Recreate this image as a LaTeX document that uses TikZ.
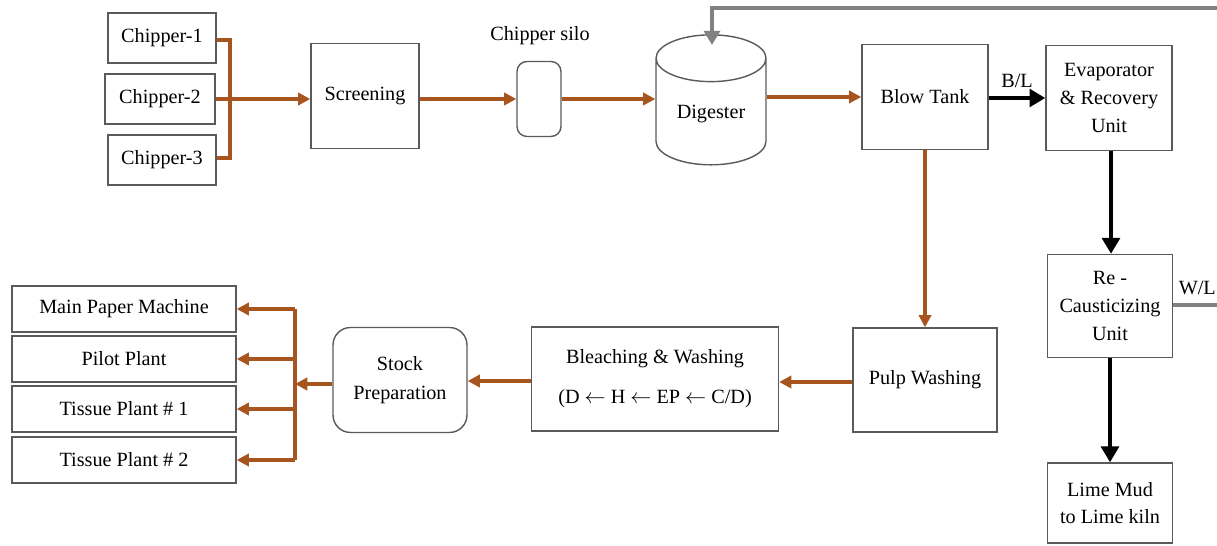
\documentclass[tikz,border=0pt]{standalone}
\usepackage{fontspec}
\setmainfont{Liberation Serif}
\usetikzlibrary{arrows.meta,shapes.geometric}
\definecolor{pulpline}{RGB}{168,84,30}
\definecolor{boxline}{RGB}{90,90,90}
\definecolor{liquorline}{RGB}{130,130,130}
\tikzset{
  unit/.style={draw=boxline, line width=0.8pt, fill=white, align=center, inner sep=2pt,
    font=\fontsize{11.5}{15.8}\selectfont},
  pulp/.style={draw=pulpline, line width=1.8pt, -{Triangle[length=7pt,width=7pt]}},
  pulpbus/.style={draw=pulpline, line width=1.8pt},
  liquor/.style={draw=black, line width=2.8pt, -{Triangle[length=9pt,width=10pt]}},
  grayflow/.style={draw=liquorline, line width=2.8pt},
  tag/.style={font=\fontsize{11.5}{14}\selectfont}
}
\begin{document}
\begin{tikzpicture}[x=0.02cm, y=-0.02cm]
\useasboundingbox (0,0) rectangle (1217,546);
\node[unit, minimum width=2.16cm, minimum height=1cm] (c1) at (162,38) {Chipper-1};
\node[unit, minimum width=2.2cm, minimum height=1cm] (c2) at (160,99) {Chipper-2};
\node[unit, minimum width=2.16cm, minimum height=1cm] (c3) at (162,160) {Chipper-3};
\node[unit, minimum width=2.16cm, minimum height=2.1cm] (scr) at (365,96) {Screening};
\node[unit, minimum width=0.88cm, minimum height=1.5cm, rounded corners=0.2cm] (silo) at (539,99) {};
\node[tag] (silolab) at (540,36) {Chipper silo};
\node[unit, cylinder, shape border rotate=90, aspect=0.62, minimum width=2.2cm, minimum height=2.6cm] (dig) at (711,116) {\\[-10pt]Digester};
\node[unit, minimum width=2.52cm, minimum height=2.1cm] (bt) at (925,97) {Blow Tank};
\node[unit, minimum width=2.52cm, minimum height=2.1cm] (evap) at (1109,98) {Evaporator\\ \& Recovery\\ Unit};
\node[unit, minimum width=2.5cm, minimum height=2.06cm] (rec) at (1110,306) {Re -\\ Causticizing\\ Unit};
\node[unit, minimum width=2.5cm, minimum height=1.6cm] (lime) at (1110,503) {Lime Mud\\ to Lime kiln};
\node[unit, minimum width=2.88cm, minimum height=2.08cm] (pw) at (925,380) {Pulp Washing};
\node[unit, minimum width=4.94cm, minimum height=2.08cm] (bl) at (655,379) {Bleaching \& Washing\\[7pt] (D $\leftarrow$ H $\leftarrow$ EP $\leftarrow$ C/D)};
\node[unit, minimum width=2.68cm, minimum height=2.1cm, rounded corners=0.35cm] (sp) at (400,380) {Stock\\[1pt] Preparation};
\node[unit, minimum width=4.48cm, minimum height=0.92cm] (mpm) at (124,309) {Main Paper Machine};
\node[unit, minimum width=4.48cm, minimum height=0.92cm] (pp) at (124,359) {Pilot Plant};
\node[unit, minimum width=4.48cm, minimum height=0.92cm] (tp1) at (124,409) {Tissue Plant \# 1};
\node[unit, minimum width=4.48cm, minimum height=0.92cm] (tp2) at (124,460) {Tissue Plant \# 2};
\coordinate (chipbus) at (230,99);
\coordinate (stockbus) at (295,384);
\coordinate (digin) at (712,45);
\coordinate (wlout) at (1217,305);
\coordinate (cookout) at (1217,8);
\draw[pulpbus] (c1.east |- 0,40) -- (chipbus |- 0,40) -- (chipbus |- 0,158) -- (c3.east |- 0,158);
\draw[pulp] (c2.east) -- (scr.west |- c2.east);
\draw[pulp] (scr.east |- silo.west) -- (silo.west);
\draw[pulp] (silo.east) -- (dig.west |- silo.east);
\draw[pulp] (dig.east |- bt.west) -- (bt.west);
\draw[grayflow, -{Triangle[length=8pt,width=9pt]}] (cookout) -- (cookout -| digin) -- (digin);
\draw[liquor] (bt.east |- 0,98) -- node[tag, above=1pt] {B/L} (evap.west |- 0,98);
\draw[liquor] (evap.south -| 1111,0) -- (rec.north -| 1111,0);
\draw[liquor] (rec.south) -- (lime.north);
\draw[grayflow] (rec.east |- wlout) -- node[tag, above=1pt, pos=0.55] {W/L} (wlout);
\draw[pulp] (bt.south) -- (pw.north);
\draw[pulp] (pw.west |- 0,382) -- (bl.east |- 0,382);
\draw[pulp] (bl.west |- 0,381) -- (sp.east |- 0,381);
\draw[pulp] (sp.west |- stockbus) -- (stockbus);
\draw[pulpbus] (stockbus |- mpm.east) -- (stockbus |- tp2.east);
\draw[pulp] (stockbus |- mpm.east) -- (mpm.east);
\draw[pulp] (stockbus |- pp.east) -- (pp.east);
\draw[pulp] (stockbus |- tp1.east) -- (tp1.east);
\draw[pulp] (stockbus |- tp2.east) -- (tp2.east);
\end{tikzpicture}
\end{document}
